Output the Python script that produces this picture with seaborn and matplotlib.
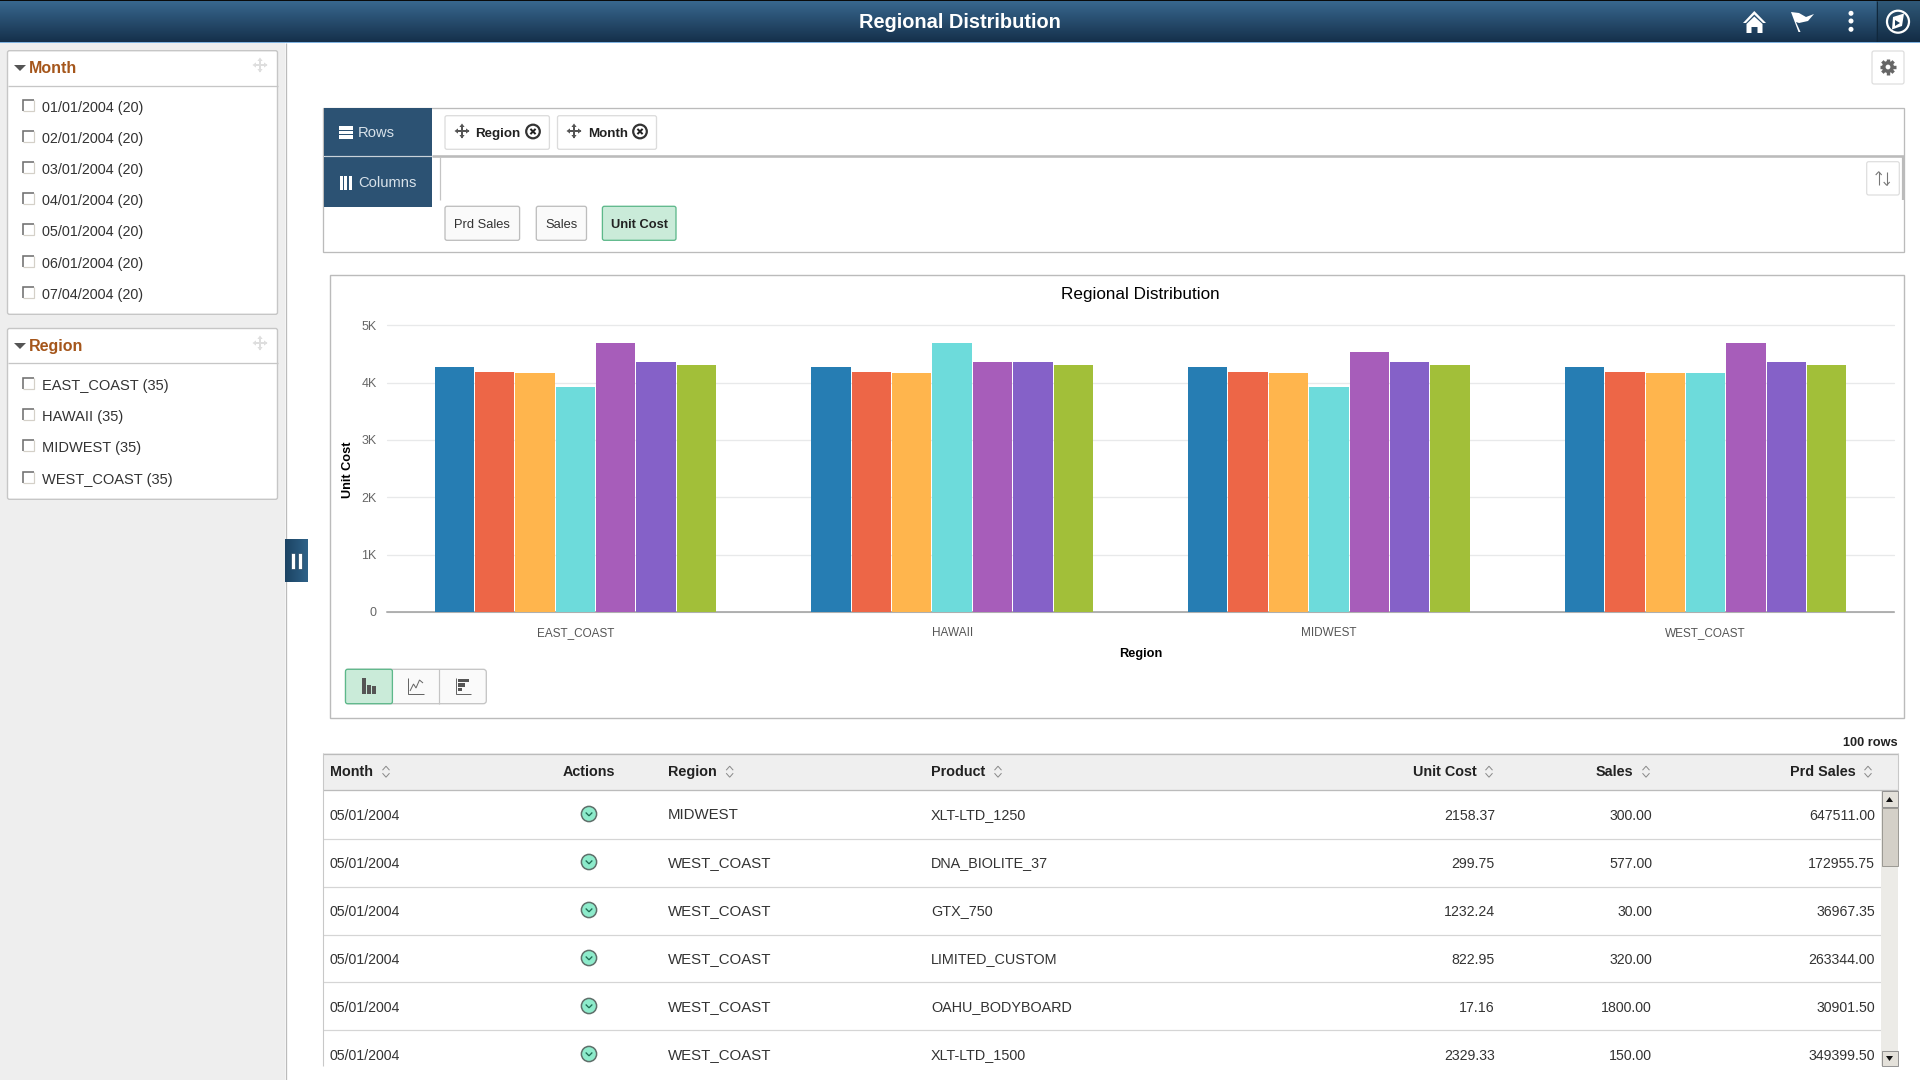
import numpy as np
import pandas as pd
import seaborn as sns
import matplotlib
matplotlib.use("Agg")
import matplotlib.pyplot as plt
from matplotlib.patches import FancyBboxPatch, Rectangle, Polygon, Circle

# ---------- data ----------
regions = ["EAST_COAST", "HAWAII", "MIDWEST", "WEST_COAST"]
months = ["01/01/2004", "02/01/2004", "03/01/2004", "04/01/2004",
          "05/01/2004", "06/01/2004", "07/04/2004"]
east_coast = [4270, 4186, 4169, 3924, 4692, 4360, 4308]
hawaii = [4270, 4186, 4169, 4692, 4360, 4360, 4308]
midwest = [4270, 4186, 4169, 3924, 4535, 4360, 4308]
west_coast = [4270, 4186, 4169, 4163, 4692, 4360, 4308]
month_counts = [20, 20, 20, 20, 20, 20, 20]
region_counts = [35, 35, 35, 35]
series_colors = ["#267db3", "#ed6647", "#ffb54d", "#6ddbdb", "#a75dba", "#8561c8", "#a2bf39"]
y_ticks = [0, 1000, 2000, 3000, 4000, 5000]
y_tick_labels = ["0", "1K", "2K", "3K", "4K", "5K"]

table_months = ["05/01/2004"] * 6
table_regions = ["MIDWEST", "WEST_COAST", "WEST_COAST", "WEST_COAST", "WEST_COAST", "WEST_COAST"]
table_products = ["XLT-LTD_1250", "DNA_BIOLITE_37", "GTX_750", "LIMITED_CUSTOM", "OAHU_BODYBOARD", "XLT-LTD_1500"]
table_unit_cost = ["2158.37", "299.75", "1232.24", "822.95", "17.16", "2329.33"]
table_sales = ["300.00", "577.00", "30.00", "320.00", "1800.00", "150.00"]
table_prd_sales = ["647511.00", "172955.75", "36967.35", "263344.00", "30901.50", "349399.50"]

df = pd.DataFrame({
    "Region": np.repeat(regions, len(months)),
    "Month": months * len(regions),
    "Unit Cost": east_coast + hawaii + midwest + west_coast,
})

# ---------- theme ----------
sns.set_theme(style="white")
plt.rcParams["font.family"] = ["Liberation Sans", "DejaVu Sans"]
W, H = 1920, 1080
fig = plt.figure(figsize=(W / 100, H / 100), dpi=100, facecolor="white")

ui = fig.add_axes([0, 0, 1, 1], zorder=0)
ui.set_xlim(0, W)
ui.set_ylim(H, 0)
ui.axis("off")
PX = 0.72


def rect(x0, y0, x1, y1, fc, ec="none", lw=1.0, z=1, r=0):
    if r:
        p = FancyBboxPatch((x0, y0), x1 - x0, y1 - y0, boxstyle=f"round,pad=0,rounding_size={r}",
                           fc=fc, ec=ec, lw=lw * PX, zorder=z)
    else:
        p = Rectangle((x0, y0), x1 - x0, y1 - y0, fc=fc, ec=ec, lw=lw * PX, zorder=z)
    ui.add_patch(p)
    return p


def line(xs, ys, c, lw=1.0, z=3, cap="butt"):
    ui.plot(xs, ys, color=c, lw=lw * PX, zorder=z, solid_capstyle=cap, solid_joinstyle="miter")


def txt(x, y, s, size, c="#333333", weight="normal", ha="left", z=5):
    # y is the visual middle of the capitals; place on a common baseline
    ui.text(x, y + 0.358 * size / PX, s, fontsize=size, color=c, fontweight=weight,
            ha=ha, va="baseline", zorder=z)


def grad(x0, y0, x1, y1, c0, c1, horizontal=False, z=1):
    a = np.array(matplotlib.colors.to_rgb(c0))
    b = np.array(matplotlib.colors.to_rgb(c1))
    t = np.linspace(0, 1, 64)[:, None]
    g = a + (b - a) * t
    img = g[None, :, :] if horizontal else g[:, None, :]
    ui.imshow(img, extent=[x0, x1, y1, y0], aspect="auto", zorder=z, interpolation="bilinear")
    ui.set_xlim(0, W)
    ui.set_ylim(H, 0)


def move_icon(x, y, c, s=7.0, lw=2.0, z=5):
    line([x - s, x + s], [y, y], c, lw, z)
    line([x, x], [y - s, y + s], c, lw, z)
    h = 2.6
    for dx, dy in [(1, 0), (-1, 0), (0, 1), (0, -1)]:
        tip = (x + dx * (s + 1), y + dy * (s + 1))
        bx, by = x + dx * (s - 2.5), y + dy * (s - 2.5)
        ui.add_patch(Polygon([tip, (bx + dy * h, by + dx * h), (bx - dy * h, by - dx * h)], fc=c, ec="none", zorder=z))


def checkbox(x, y):
    rect(x, y, x + 11.5, y + 11.5, "white", z=3)
    line([x, x, x + 11.5], [y + 11.5, y, y], "#707070", 1.6, 4)
    line([x + 11.5, x + 11.5, x], [y, y + 11.5, y + 11.5], "#D4D0C8", 1.2, 4)


def sort_icon(x, y):
    line([x - 3.5, x, x + 3.5], [y - 1.5, y - 5.5, y - 1.5], "#8A8A8A", 1.0, 5)
    line([x - 3.5, x, x + 3.5], [y + 1.5, y + 5.5, y + 1.5], "#8A8A8A", 1.0, 5)


# ---------- page chrome ----------
rect(0, 43, 285, H, "#EEEEEE", z=0.5)
line([285.5, 285.5], [43, H], "#BBBBBB", 1.3, 1)

grad(0, 1, W, 42, "#38678E", "#15304B")
grad(1876, 1, W, 42, "#2F5877", "#132C45", z=1.1)
line([1876.5, 1876.5], [1, 42], "#10283D", 1, 2)
rect(0, 0, W, 1.2, "#0A0A0A", z=2)
rect(0, 42, W, 43.2, "#7FB2E0", z=2)
txt(960, 21, "Regional Distribution", 14.4, "white", "bold", ha="center")

# home
ui.add_patch(Polygon([(1743, 23), (1754.3, 11), (1766, 23), (1763, 23), (1754.3, 14.5), (1746, 23)], fc="white", ec="none", zorder=5))
ui.add_patch(Polygon([(1746.5, 24), (1754.3, 16.5), (1762.5, 24), (1762.5, 33), (1757.5, 33), (1757.5, 27), (1751.5, 27), (1751.5, 33), (1746.5, 33)], fc="white", ec="none", zorder=5))
# flag
ui.add_patch(Polygon([(1791, 12), (1799, 13), (1806, 17), (1814, 14), (1808, 21), (1799, 23), (1796, 22), (1800.5, 32), (1798.5, 32)], fc="white", ec="none", zorder=5))
# dots
for dy in (13.3, 21, 29.3):
    ui.add_patch(Circle((1851, dy), 2.5, fc="white", ec="none", zorder=5))
# compass
ui.add_patch(Circle((1898, 21.7), 11, fc="none", ec="white", lw=1.6, zorder=5))
ui.add_patch(Polygon([(1893, 17), (1904, 13.5), (1902, 26), (1892, 29.5)], fc="white", ec="none", zorder=5))
ui.add_patch(Polygon([(1895, 20), (1900, 23), (1895, 26)], fc="#1E3F5C", ec="none", zorder=6))

# gear button
rect(1872, 51, 1904, 84, "white", "#DDDDDD", 1.2, 2, 2)
for a in np.arange(0, 180, 45):
    dx, dy = 8 * np.cos(np.radians(a)), 8 * np.sin(np.radians(a))
    line([1888 - dx, 1888 + dx], [67 - dy, 67 + dy], "#666666", 3.4, 4)
ui.add_patch(Circle((1888, 67), 6, fc="#666666", ec="none", zorder=4))
ui.add_patch(Circle((1888, 67), 2.4, fc="white", ec="none", zorder=5))


# ---------- filter panels ----------
def panel(y0, y1, ydiv, title, ytitle, labels, ytext, ybox, size):
    rect(7.5, y0, 277.5, y1, "white", "#C6C6C6", 1.4, 2, 2)
    line([7.5, 277.5], [ydiv, ydiv], "#C6C6C6", 1.3, 3)
    ui.add_patch(Polygon([(14, ytitle - 2), (26, ytitle - 2), (20, ytitle + 4)], fc="#555555", ec="none", zorder=5))
    txt(29, ytitle, title, 11.5, "#A5561B", "bold")
    move_icon(260, ytitle - 2, "#DEDEDE", 6.5, 2.0)
    for lab, ty, by in zip(labels, ytext, ybox):
        checkbox(22.5, by)
        txt(42, ty, lab, size, "#333333")


panel(50.7, 314.3, 85.5, "Month", 67,
      [f"{m} ({c})" for m, c in zip(months, month_counts)],
      [106.7, 137.7, 168.7, 199.7, 230.7, 262.7, 293.7],
      [99.5, 130.5, 161.5, 192.5, 223.5, 255.5, 286.5], 10.4)
panel(328.5, 499.3, 363.3, "Region", 345,
      [f"{r} ({c})" for r, c in zip(regions, region_counts)],
      [384.3, 415.7, 447, 478.7],
      [377.5, 408.5, 439.5, 471.5], 10.5)

# collapse tab
grad(285, 539, 307.7, 581.7, "#1B4363", "#2F6288", horizontal=True, z=3)
rect(291, 552.7, 295.3, 569, "white", "#173A57", 0.6, 4)
rect(297.7, 552.7, 302, 569, "white", "#173A57", 0.6, 4)

# ---------- pivot box ----------
rect(323, 107.5, 1904, 252.3, "white", "#BBBBBB", 1.3, 1)
rect(324, 108, 432, 155.8, "#2C5273", z=2)
rect(324, 157, 432, 206.7, "#2C5273", z=2)
line([432, 1904], [156.3, 156.3], "#BBBBBB", 2.6, 2)
line([324, 432], [156.3, 156.3], "#C9D2DA", 1.2, 3)
line([439.6, 439.6], [157, 200], "#C4C4C4", 1.2, 2)
line([1903.3, 1903.3], [157, 200], "#BBBBBB", 2.2, 2)
for yy in (128, 132.5, 137):
    rect(339, yy - 1.7, 353, yy + 1.7, "white", z=4)
for xx in (341, 345.5, 350):
    rect(xx - 1.5, 176, xx + 1.5, 190, "white", z=4)
txt(358, 132, "Rows", 10.6, "#D8E2EA")
txt(358, 182, "Columns", 10.6, "#D8E2EA")


def chip(x0, x1, label, tx, ix, cx):
    rect(x0, 115.7, x1, 149.3, "white", "#DCDCDC", 1.3, 2, 2)
    move_icon(ix, 131, "#555555", 6.5, 2.0)
    txt(tx, 132, label, 9.6, "#222222", "bold")
    ui.add_patch(Circle((cx, 131.5), 6.8, fc="white", ec="#333333", lw=1.6, zorder=5))
    line([cx - 2.6, cx + 2.6], [128.9, 134.1], "#222222", 2.0, 6)
    line([cx - 2.6, cx + 2.6], [134.1, 128.9], "#222222", 2.0, 6)


chip(445, 549.4, "Region", 475.5, 462, 533)
chip(557.5, 656.5, "Month", 588.6, 574, 640)


def value_chip(x0, x1, label, active=False):
    fc, ec = ("#CAEBD9", "#5DB88A") if active else ("#FAFAFA", "#BDBDBD")
    rect(x0, 206.3, x1, 240.3, fc, ec, 1.3, 3, 2)
    txt((x0 + x1) / 2, 223, label, 9.3, "#222222" if active else "#333333", "bold" if active else "normal", ha="center")


value_chip(445, 519.6, "Prd Sales")
value_chip(536.3, 586.5, "Sales")
value_chip(602.4, 676, "Unit Cost", True)

# sort button
rect(1866.7, 161.7, 1899.3, 195, "white", "#DDDDDD", 1.2, 3, 2)
line([1878.7, 1878.7], [172, 185], "#777777", 1.1, 5)
line([1875.7, 1878.7, 1881.7], [175, 171.7, 175], "#777777", 1.1, 5)
line([1886.7, 1886.7], [172, 185], "#777777", 1.1, 5)
line([1883.7, 1886.7, 1889.7], [182, 185.3, 182], "#777777", 1.1, 5)

# ---------- chart card ----------
rect(330.2, 275.3, 1904.4, 718.3, "white", "#BBBBBB", 1.4, 1)
txt(1140.6, 293.3, "Regional Distribution", 12.3, "#000000", ha="center")

ax_l, ax_r, ax_t, ax_b = 387, 1894, 325.3, 612
ax = fig.add_axes([ax_l / W, 1 - ax_b / H, (ax_r - ax_l) / W, (ax_b - ax_t) / H], zorder=2)
ax.patch.set_alpha(0)
sns.barplot(data=df, x="Region", y="Unit Cost", hue="Month", hue_order=months, order=regions,
            palette=series_colors, width=0.75, gap=0.025, saturation=1, errorbar=None,
            linewidth=0, edgecolor="none", legend=False, ax=ax, zorder=3)
ax.set_xlim(-0.5, 3.5)
ax.set_ylim(0, 5000)
ax.set_yticks(y_ticks)
ax.set_yticklabels(y_tick_labels)
ax.grid(axis="y", color="#E8E9EA", lw=1.3 * PX, zorder=0)
ax.set_axisbelow(True)
for g in ax.get_ygridlines():
    g.set_clip_on(False)
sns.despine(ax=ax, left=True, top=True, right=True)
ax.spines["bottom"].set_color("#9C9C9C")
ax.spines["bottom"].set_linewidth(1.5 * PX)
ax.tick_params(axis="y", length=0, pad=7.5, labelsize=9, labelcolor="#666666")
ax.tick_params(axis="x", length=0, pad=17.0, labelsize=8.5, labelcolor="#555555")
for t in ax.get_xticklabels():
    t.set_va("baseline")
ax.set_ylabel("Unit Cost", fontsize=9.2, fontweight="bold", color="#000000", va="center")
ax.set_xlabel("Region", fontsize=9.2, fontweight="bold", color="#000000", va="center")
ax.yaxis.set_label_coords((348 - ax_l) / (ax_r - ax_l), (ax_b - 470) / (ax_b - ax_t))
ax.xaxis.set_label_coords((1140.6 - ax_l) / (ax_r - ax_l), -(654.5 - ax_b) / (ax_b - ax_t))

# chart type buttons
rect(345.5, 669.3, 486.3, 703.7, "#FAFAFA", "#C4C4C4", 1.3, 2, 3)
rect(345.5, 669.3, 392.4, 703.7, "#CAEBD9", "#5DB88A", 1.3, 3, 2)
line([439.4, 439.4], [669.3, 703.7], "#C4C4C4", 1.2, 4)
for x0, top in [(362, 678), (367.2, 684.5), (372.4, 686)]:
    rect(x0, top, x0 + 3.8, 694, "#555555", z=5)
line([408, 408, 424], [678, 694, 694], "#666666", 1.0, 5)
line([410, 413.5, 416, 419.5, 423], [691, 684, 688, 680, 683], "#666666", 1.0, 5)
line([456, 456, 471], [678, 694, 694], "#666666", 1.0, 5)
for yy, xe in [(680.5, 469), (685, 465), (689.5, 462)]:
    rect(457.5, yy - 1.7, xe, yy + 1.7, "#555555", z=5)

# ---------- table ----------
txt(1898, 741.7, "100 rows", 9.2, "#222222", "bold", ha="right")
rect(323, 753.3, 1898, 790.3, "#EFEFEF", z=1)
line([323, 1898], [753.5, 753.5], "#BBBBBB", 1.3, 3)
line([323, 1898], [790.3, 790.3], "#BBBBBB", 1.3, 3)
line([323.2, 323.2], [753.3, 1066], "#C8C8C8", 1.1, 3)
line([1898, 1898], [753.3, 790.3], "#C8C8C8", 1.1, 3)

y_head = 771.2
for label, x, ico in [("Month", 330, 386), ("Region", 668, 729.7), ("Product", 931, 998)]:
    txt(x, y_head, label, 10.4, "#222222", "bold")
    sort_icon(ico, 771.7)
txt(588.4, y_head, "Actions", 10.4, "#222222", "bold", ha="center")
for label, x, ico in [("Unit Cost", 1477, 1489), ("Sales", 1633.3, 1646), ("Prd Sales", 1855.7, 1868)]:
    txt(x, y_head, label, 10.4, "#222222", "bold", ha="right")
    sort_icon(ico, 771.7)

for yy in (839.3, 887.3, 935.3, 982.3, 1030.3):
    line([323, 1881], [yy, yy], "#D5D5D5", 1.2, 2)

row_y = [815, 863, 911, 959, 1007, 1055]
for i, y in enumerate(row_y):
    txt(330, y - 0.4, table_months[i], 10.2)
    txt(667.5, y - 1.0, table_regions[i], 10.8)
    txt(931, y - 1.0, table_products[i], 10.4)
    txt(1495, y - 0.4, table_unit_cost[i], 10.2, ha="right")
    txt(1652, y - 0.4, table_sales[i], 10.2, ha="right")
    txt(1875, y - 0.4, table_prd_sales[i], 10.2, ha="right")
    ui.add_patch(Circle((589, y - 1), 7.6, fc="#8DEBCB", ec="#5F6F6A", lw=1.1, zorder=5))
    line([585.7, 589, 592.3], [y - 2.5, y + 0.8, y - 2.5], "#1E6B52", 1.3, 6)

# scrollbar
rect(1881, 790.5, 1898, 1066, "#ECEBE7", z=2)
rect(1881.5, 791, 1897.5, 806.7, "#E4E1DA", "#7F7F7F", 0.8, 3)
ui.add_patch(Polygon([(1886, 802), (1893, 802), (1889.5, 797)], fc="#111111", ec="none", zorder=4))
rect(1881.5, 807.7, 1897.5, 865.7, "#D4D0C8", "#8C8A84", 0.8, 3)
rect(1881.5, 1050.7, 1897.5, 1065.7, "#E4E1DA", "#7F7F7F", 0.8, 3)
ui.add_patch(Polygon([(1886, 1056), (1893, 1056), (1889.5, 1061)], fc="#111111", ec="none", zorder=4))

fig.savefig("out.png", dpi=100, facecolor="white")
